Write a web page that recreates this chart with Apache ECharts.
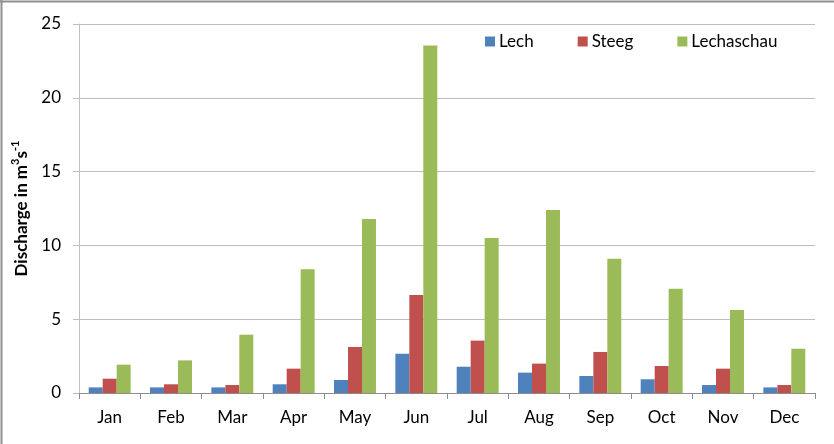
<!DOCTYPE html>
<html>
<head>
<meta charset="utf-8">
<script src="https://cdn.jsdelivr.net/npm/echarts@6/dist/echarts.min.js"></script>
<style>
  html, body { margin: 0; padding: 0; background: #fff; }
  #chart { width: 834px; height: 444px; }
</style>
</head>
<body>
<div id="chart"></div>
<script>
// Mean monthly discharge (m³/s) at three gauges on the Lech
const months = ['Jan', 'Feb', 'Mar', 'Apr', 'May', 'Jun', 'Jul', 'Aug', 'Sep', 'Oct', 'Nov', 'Dec'];
const lech = [0.38, 0.38, 0.38, 0.59, 0.88, 2.66, 1.78, 1.38, 1.15, 0.93, 0.54, 0.38];
const steeg = [0.97, 0.59, 0.54, 1.65, 3.12, 6.64, 3.55, 1.99, 2.78, 1.83, 1.65, 0.54];
const lechaschau = [1.92, 2.21, 3.95, 8.38, 11.79, 23.55, 10.5, 12.4, 9.1, 7.07, 5.62, 3.0];
const yTicks = [0, 5, 10, 15, 20, 25];

const FONT = 'Lato';
const chart = echarts.init(document.getElementById('chart'), null, { renderer: 'canvas' });

const barSeries = (name, data, color) => ({
  name: name,
  type: 'bar',
  data: data,
  barGap: '0%',
  barCategoryGap: '31.6%',
  itemStyle: { color: color },
  emphasis: { disabled: true }
});

chart.setOption({
  animation: false,
  backgroundColor: '#ffffff',
  textStyle: { fontFamily: FONT },
  grid: { left: 79, right: 19, top: 24, bottom: 51, containLabel: false },
  legend: {
    top: 33,
    left: 485,
    padding: 0,
    itemWidth: 10,
    itemHeight: 10,
    itemGap: 44,
    icon: 'rect',
    textStyle: { fontFamily: FONT, fontSize: 17, color: '#000', padding: [0, 0, 0, -1] },
    data: ['Lech', 'Steeg', 'Lechaschau']
  },
  xAxis: {
    type: 'category',
    data: months,
    axisLine: { lineStyle: { color: '#8c8c8c', width: 1 } },
    axisTick: { show: true, alignWithLabel: false, length: 6, lineStyle: { color: '#8c8c8c' } },
    axisLabel: { fontFamily: FONT, fontSize: 17, color: '#000', margin: 16 },
    splitLine: { show: false }
  },
  yAxis: {
    type: 'value',
    min: yTicks[0],
    max: yTicks[yTicks.length - 1],
    interval: 5,
    name: '{a|Discharge in m}{s|3}{a|s}{s|-1}',
    nameLocation: 'middle',
    nameGap: 49,
    nameRotate: 90,
    nameTextStyle: {
      rich: {
        a: { fontFamily: FONT, fontSize: 17, fontWeight: 'bold', color: '#000', lineHeight: 20, verticalAlign: 'bottom' },
        s: { fontFamily: FONT, fontSize: 11, fontWeight: 'bold', color: '#000', lineHeight: 20, verticalAlign: 'top' }
      }
    },
    axisLine: { show: true, lineStyle: { color: '#bfbfbf', width: 1 } },
    axisTick: { show: true, length: 6, lineStyle: { color: '#bfbfbf' } },
    axisLabel: { fontFamily: FONT, fontSize: 17, color: '#000', margin: 18 },
    splitLine: { show: true, lineStyle: { color: '#bdbdbd', width: 1 } }
  },
  series: [
    barSeries('Lech', lech, '#4f81bd'),
    barSeries('Steeg', steeg, '#c0504d'),
    barSeries('Lechaschau', lechaschau, '#9bbb59')
  ],
  graphic: [
    { type: 'line', shape: { x1: 0, y1: 1.5, x2: 834, y2: 1.5 }, style: { stroke: '#8f8f8f', lineWidth: 2 }, silent: true },
    { type: 'line', shape: { x1: 1.5, y1: 0, x2: 1.5, y2: 444 }, style: { stroke: '#8f8f8f', lineWidth: 2 }, silent: true }
  ]
});
</script>
</body>
</html>
